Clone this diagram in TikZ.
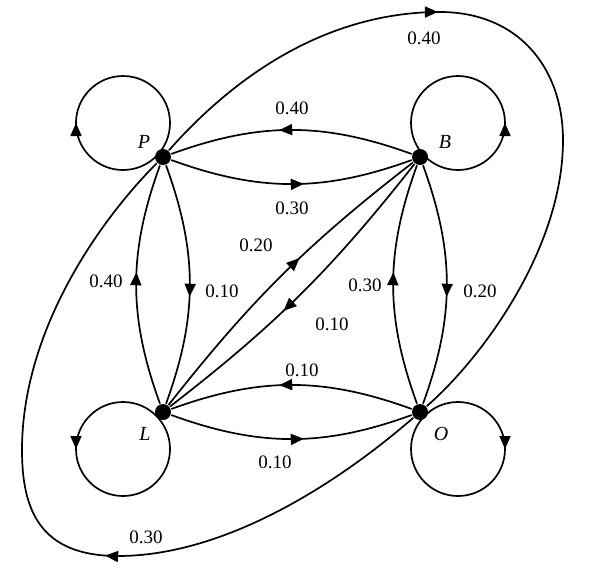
\documentclass[tikz,border=0pt]{standalone}
\usepackage{fontspec}
\setmainfont{Liberation Serif}
\usetikzlibrary{arrows.meta,decorations.markings}
\begin{document}
\begin{tikzpicture}[x=1pt,y=-1pt,line width=1.7pt,
  vtx/.style={circle,fill=black,inner sep=0pt,minimum size=16pt},
  lbl/.style={font=\fontsize{19}{22}\selectfont},
  vlbl/.style={font=\fontsize{20}{22}\selectfont\itshape},
  midarrow/.style={postaction={decorate},decoration={markings,mark=at position #1 with {\arrow{Triangle[length=13pt,width=11pt]}}}},
  midarrow/.default=0.55]
\useasboundingbox (0,0) rectangle (610,576);
\node[vtx] (P) at (163,157) {};
\node[vtx] (B) at (420,157) {};
\node[vtx] (L) at (163,412) {};
\node[vtx] (O) at (420,412) {};
\node[vlbl] at (144,142) {P};
\node[vlbl] at (445,142) {B};
\node[vlbl] at (145,434) {L};
\node[vlbl] at (441,434) {O};
% loops
\draw[midarrow=0.5] (123,123) ++(0:47) arc[start angle=0,end angle=360,radius=47];
\draw[midarrow=0.5] (458,123) ++(180:47) arc[start angle=180,end angle=-180,radius=47];
\draw[midarrow=0.5] (123,449) ++(0:47) arc[start angle=360,end angle=0,radius=47];
\draw[midarrow=0.5] (458,449) ++(180:47) arc[start angle=-180,end angle=180,radius=47];
% edges
\draw[midarrow] (B) to[bend right=20] (P);
\draw[midarrow] (P) to[bend right=20] (B);
\draw[midarrow] (P) to[bend left=20] (L);
\draw[midarrow] (L) to[bend left=20] (P);
\draw[midarrow] (B) to[bend left=20] (O);
\draw[midarrow] (O) to[bend left=20] (B);
\draw[midarrow] (O) to[bend right=20] (L);
\draw[midarrow] (L) to[bend right=20] (O);
\draw[midarrow=0.57] (L) to[bend left=7] (B);
\draw[midarrow=0.57] (B) to[bend left=7] (L);
% long curves
\coordinate (t1) at (435,12);
\coordinate (t2) at (563,140);
\draw[midarrow=0.38] (P) .. controls (240,70) and (330,14) .. (t1)
  .. controls (520,10) and (563,70) .. (t2)
  .. controls (563,250) and (480,360) .. (O);
\coordinate (b1) at (118,556);
\coordinate (b2) at (22,450);
\draw[midarrow=0.42] (O) .. controls (330,490) and (220,556) .. (b1)
  .. controls (40,556) and (22,510) .. (b2)
  .. controls (22,330) and (100,220) .. (P);
% labels
\node[lbl] at (424,38) {0.40};
\node[lbl] at (292,108) {0.40};
\node[lbl] at (292,208) {0.30};
\node[lbl] at (106,281) {0.40};
\node[lbl] at (222,291) {0.10};
\node[lbl] at (256,245) {0.20};
\node[lbl] at (332,324) {0.10};
\node[lbl] at (365,285) {0.30};
\node[lbl] at (480,291) {0.20};
\node[lbl] at (302,370) {0.10};
\node[lbl] at (275,462) {0.10};
\node[lbl] at (146,537) {0.30};
\end{tikzpicture}
\end{document}
